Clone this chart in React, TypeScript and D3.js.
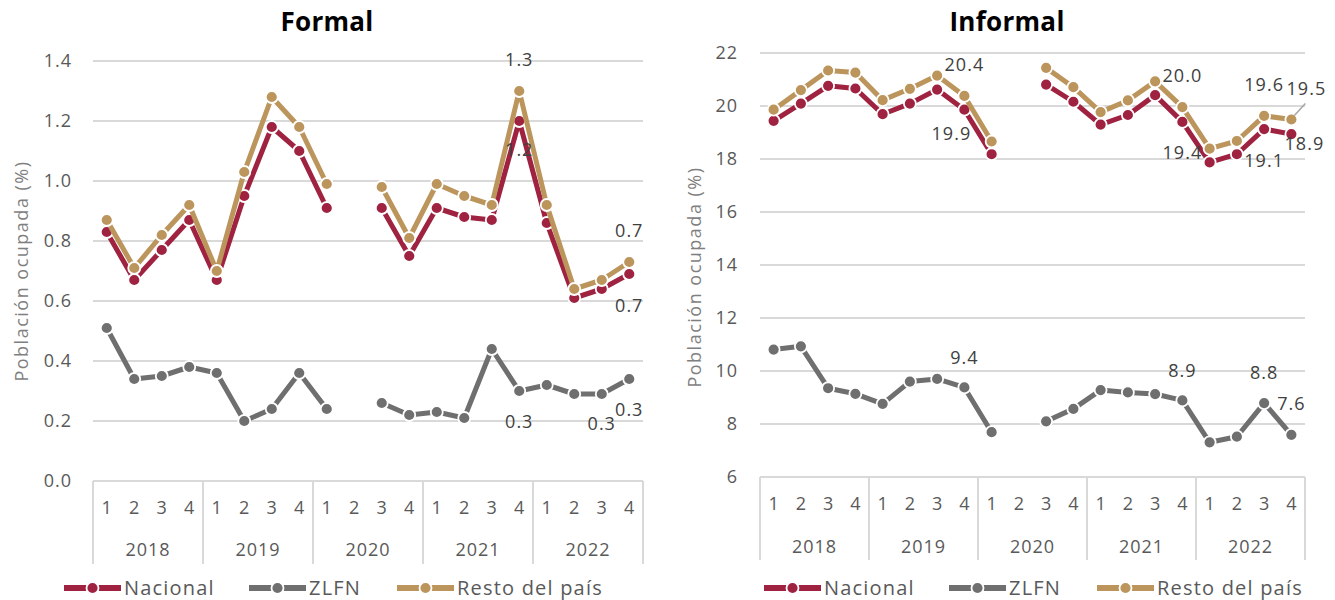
import React from "react";
import * as d3 from "d3";

const quarters = ["1", "2", "3", "4"];
const years = ["2018", "2019", "2020", "2021", "2022"];

// Formal (%)
const formalNacional = [0.83, 0.67, 0.77, 0.87, 0.67, 0.95, 1.18, 1.1, 0.91, null, 0.91, 0.75, 0.91, 0.88, 0.87, 1.2, 0.86, 0.61, 0.64, 0.69];
const formalZLFN = [0.51, 0.34, 0.35, 0.38, 0.36, 0.2, 0.24, 0.36, 0.24, null, 0.26, 0.22, 0.23, 0.21, 0.44, 0.3, 0.32, 0.29, 0.29, 0.34];
const formalResto = [0.87, 0.71, 0.82, 0.92, 0.7, 1.03, 1.28, 1.18, 0.99, null, 0.98, 0.81, 0.99, 0.95, 0.92, 1.3, 0.92, 0.64, 0.67, 0.73];

// Informal (%)
const informalNacional = [19.44, 20.09, 20.76, 20.66, 19.69, 20.09, 20.62, 19.86, 18.18, null, 20.81, 20.16, 19.3, 19.66, 20.41, 19.4, 17.87, 18.18, 19.13, 18.94];
const informalZLFN = [10.81, 10.93, 9.35, 9.14, 8.76, 9.6, 9.7, 9.38, 7.69, null, 8.1, 8.57, 9.28, 9.19, 9.13, 8.89, 7.31, 7.52, 8.79, 7.59];
const informalResto = [19.86, 20.6, 21.34, 21.26, 20.22, 20.65, 21.15, 20.38, 18.66, null, 21.44, 20.71, 19.77, 20.21, 20.93, 19.96, 18.39, 18.68, 19.63, 19.49];

const formalTicks = [0, 0.2, 0.4, 0.6, 0.8, 1.0, 1.2, 1.4];
const informalTicks = [6, 8, 10, 12, 14, 16, 18, 20, 22];

const seriesNames = ["Nacional", "ZLFN", "Resto del país"];
const seriesColors = ["#9F2241", "#6F6F6F", "#BC955C"];

// annotations: [seriesIndex, pointIndex, dx, dy, leader]
const formalLabels: [number, number, number, number, boolean][] = [
  [2, 15, 0, -31, false],
  [0, 15, 0, 29, false],
  [2, 19, 0, -31, false],
  [0, 19, 0, 32, false],
  [1, 15, 0, 31, false],
  [1, 18, 0, 30, false],
  [1, 19, 0, 31, false],
];
const informalLabels: [number, number, number, number, boolean][] = [
  [2, 7, 0, -31, false],
  [0, 7, -13, 24, false],
  [2, 15, 0, -31, false],
  [0, 15, 0, 31, false],
  [2, 18, 0, -31, false],
  [0, 18, 0, 32, false],
  [2, 19, 15, -31, true],
  [0, 19, 13, 10, false],
  [1, 7, 0, -30, false],
  [1, 15, 0, -30, false],
  [1, 18, 0, -30, false],
  [1, 19, 0, -31, false],
];

const FONT = "'Open Sans', 'Noto Sans', sans-serif";
const LS = 1;

type PanelProps = {
  title: string;
  titleX: number;
  x0: number;
  x1: number;
  yTop: number;
  yBottom: number;
  domain: [number, number];
  ticks: number[];
  tickFmt: (v: number) => string;
  tickX: number;
  yTitleX: number;
  yTitleY: number;
  quarterY: number;
  yearY: number;
  boxBottom: number;
  legendX: number;
  data: (number | null)[][];
  labels: [number, number, number, number, boolean][];
};

function Panel(p: PanelProps) {
  const cats = years.flatMap((yr) => quarters.map((q) => `${yr}-${q}`));
  const x = d3.scaleBand<string>().domain(cats).range([p.x0, p.x1]);
  const bw = x.bandwidth();
  const cx = (i: number) => (x(cats[i]) as number) + bw / 2;
  const y = d3.scaleLinear().domain(p.domain).range([p.yBottom, p.yTop]);
  const line = d3
    .line<number | null>()
    .defined((d) => d != null)
    .x((_, i) => cx(i))
    .y((d) => y(d as number));
  const yearX = d3.scaleBand<string>().domain(years).range([p.x0, p.x1]);
  const fmt = d3.format(".1f");
  const legendOffsets = [0, 185, 333];

  return (
    <g>
      <text x={p.titleX} y={31} textAnchor="middle" fontSize={26} fontWeight="bold" fill="#000" letterSpacing={0.3}>
        {p.title}
      </text>
      {p.ticks.map((t) => (
        <g key={t}>
          <line x1={p.x0} x2={p.x1} y1={y(t)} y2={y(t)} stroke="#D9D9D9" strokeWidth={2} />
          <text x={p.tickX} y={y(t)} dy="0.35em" textAnchor="end" fontSize={18} fill="#595959" letterSpacing={LS}>
            {p.tickFmt(t)}
          </text>
        </g>
      ))}
      <text
        transform={`translate(${p.yTitleX},${p.yTitleY}) rotate(-90)`}
        textAnchor="middle"
        dy="0.35em"
        fontSize={18}
        fill="#7F7F7F"
        letterSpacing={1.5}
      >
        Población ocupada (%)
      </text>
      {years.concat([""]).map((yr, k) => {
        const xx = k < years.length ? (yearX(yr) as number) : p.x1;
        return <line key={k} x1={xx} x2={xx} y1={p.yBottom} y2={p.boxBottom} stroke="#D9D9D9" strokeWidth={2} />;
      })}
      {cats.map((c, i) => (
        <text key={c} x={cx(i)} y={p.quarterY} dy="0.35em" textAnchor="middle" fontSize={18} fill="#595959">
          {quarters[i % 4]}
        </text>
      ))}
      {years.map((yr) => (
        <text
          key={yr}
          x={(yearX(yr) as number) + yearX.bandwidth() / 2}
          y={p.yearY}
          dy="0.35em"
          textAnchor="middle"
          fontSize={18}
          fill="#595959"
          letterSpacing={LS}
        >
          {yr}
        </text>
      ))}
      {p.data.map((s, si) => (
        <g key={si}>
          <path d={line(s) || ""} fill="none" stroke={seriesColors[si]} strokeWidth={5} strokeLinejoin="round" />
          {s.map((v, i) =>
            v == null ? null : (
              <circle key={i} cx={cx(i)} cy={y(v)} r={6} fill={seriesColors[si]} stroke="#fff" strokeWidth={1.8} />
            )
          )}
        </g>
      ))}
      {p.labels.map(([si, i, dx, dy, leader], k) => {
        const v = p.data[si][i] as number;
        const px = cx(i);
        const py = y(v);
        return (
          <g key={k}>
            {leader && <line x1={px + 3} y1={py - 4} x2={px + 14} y2={py - 16} stroke="#A6A6A6" strokeWidth={1.5} />}
            <text x={px + dx} y={py + dy} dy="0.35em" textAnchor="middle" fontSize={18} fill="#404040" letterSpacing={LS}>
              {fmt(v)}
            </text>
          </g>
        );
      })}
      {seriesNames.map((name, si) => {
        const lx = p.legendX + legendOffsets[si];
        const ly = 588;
        return (
          <g key={name}>
            <line x1={lx} x2={lx + 57} y1={ly} y2={ly} stroke={seriesColors[si]} strokeWidth={6} />
            <circle cx={lx + 28.5} cy={ly} r={6} fill={seriesColors[si]} stroke="#fff" strokeWidth={1.8} />
            <text x={lx + 60} y={ly} dy="0.35em" fontSize={20} fill="#595959" letterSpacing={1.2}>
              {name}
            </text>
          </g>
        );
      })}
    </g>
  );
}

export default function App() {
  const f1 = d3.format(".1f");
  const f0 = d3.format("d");
  return (
    <div style={{ position: "absolute", left: 0, top: 0 }}>
      <svg width={1335} height={600} style={{ fontFamily: FONT, display: "block", background: "#fff" }}>
        <Panel
          title="Formal"
          titleX={327}
          x0={93}
          x1={643}
          yTop={61}
          yBottom={481}
          domain={[0, 1.4]}
          ticks={formalTicks}
          tickFmt={(v) => f1(v)}
          tickX={72}
          yTitleX={22}
          yTitleY={271}
          quarterY={508}
          yearY={550}
          boxBottom={564}
          legendX={64}
          data={[formalNacional, formalZLFN, formalResto]}
          labels={formalLabels}
        />
        <Panel
          title="Informal"
          titleX={1007}
          x0={760}
          x1={1305}
          yTop={53}
          yBottom={477}
          domain={[6, 22]}
          ticks={informalTicks}
          tickFmt={(v) => f0(v)}
          tickX={738}
          yTitleX={695}
          yTitleY={277}
          quarterY={504}
          yearY={547}
          boxBottom={560}
          legendX={764}
          data={[informalNacional, informalZLFN, informalResto]}
          labels={informalLabels}
        />
      </svg>
    </div>
  );
}
